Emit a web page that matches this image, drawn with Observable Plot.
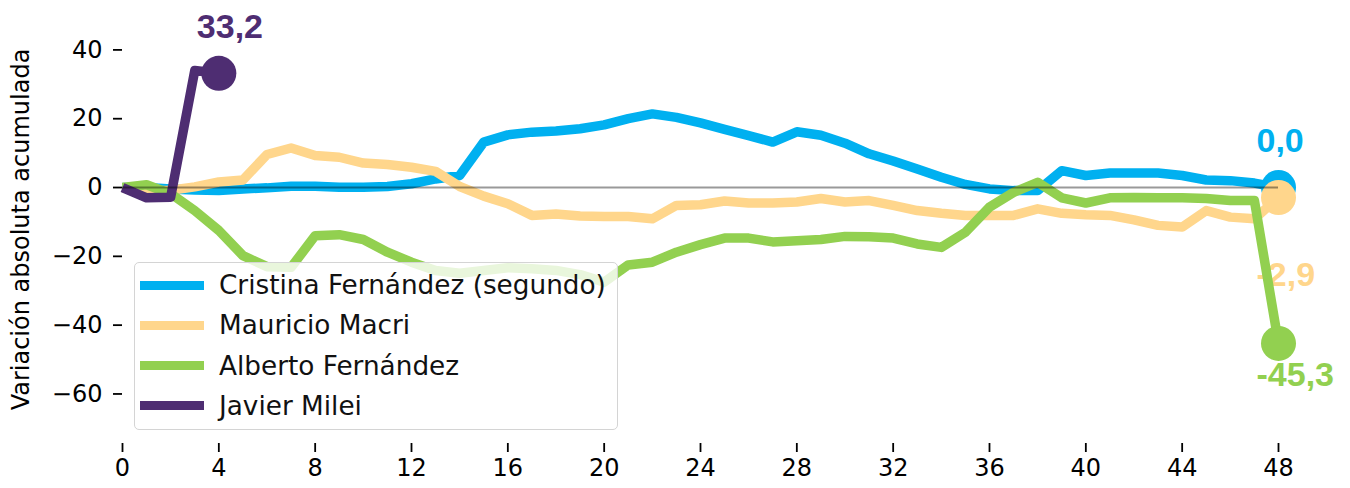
<!DOCTYPE html>
<html>
<head>
<meta charset="utf-8">
<script src="https://cdn.jsdelivr.net/npm/d3@7"></script>
<script src="https://cdn.jsdelivr.net/npm/@observablehq/plot@0.6"></script>
<style>
  html, body { margin: 0; padding: 0; background: white; }
  #wrap { position: relative; width: 1350px; height: 488px; }
  .legend { position: absolute; background: rgba(255,255,255,0.8); border: 1.5px solid #d4d4d4; border-radius: 5px; box-sizing: border-box; }
  .legend .sw { position: absolute; height: 9px; }
  .legend .lb { position: absolute; font-family: "DejaVu Sans"; font-size: 26.3px; color: #111; white-space: nowrap; line-height: 30px; }
</style>
</head>
<body>
<div id="wrap"></div>
<script>
// ---- data ----
const months = d3.range(0, 49);
const xTicks = [0, 4, 8, 12, 16, 20, 24, 28, 32, 36, 40, 44, 48];
const yTicks = [-60, -40, -20, 0, 20, 40];

const seriesNames = ["Cristina Fernández (segundo)", "Mauricio Macri", "Alberto Fernández", "Javier Milei"];
const seriesColors = ["#00B0F0", "#FFD68C", "#92D050", "#4E2D72"];

const cristina = [0, 0, -0.4, -0.7, -0.9, -0.4, -0.1, 0.4, 0.4, 0.1, 0.1, 0.3, 1.1, 2.5, 3.5,
  13.2, 15.3, 16.1, 16.4, 17.1, 18.2, 20.0, 21.4, 20.4, 18.8, 16.9, 15.1, 13.2, 16.2, 15.2,
  12.9, 9.8, 7.7, 5.4, 3.0, 0.9, -0.4, -0.9, -0.9, 4.9, 3.5, 4.2, 4.2, 4.2, 3.5, 2.2, 2.0, 1.3, 0.0];
const macri = [0, -1.0, -0.8, 0.2, 1.6, 2.2, 9.6, 11.5, 9.3, 8.8, 7.1, 6.7, 5.9, 4.7, 0.3,
  -2.5, -4.7, -8.1, -7.7, -8.3, -8.4, -8.4, -9.1, -5.2, -5.0, -3.9, -4.5, -4.5, -4.2, -3.2,
  -4.2, -3.8, -5.2, -6.7, -7.5, -8.1, -8.1, -8.1, -6.2, -7.5, -7.9, -8.1, -9.4, -11.0, -11.5,
  -6.7, -8.6, -9.1, -2.9];
const alberto = [0, 0.8, -1.8, -6.7, -12.5, -19.8, -23.0, -23.2, -14.0, -13.7, -15.1, -18.8,
  -21.7, -24.1, -24.9, -24.1, -23.3, -23.6, -24.1, -25.3, -27.5, -22.5, -21.7, -18.8, -16.6,
  -14.7, -14.7, -15.8, -15.5, -15.1, -14.2, -14.3, -14.7, -16.4, -17.4, -13.0, -5.7, -1.4,
  1.5, -3.0, -4.5, -3.0, -2.9, -3.0, -3.0, -3.2, -3.8, -3.8, -45.3];
const milei = [0, -3.0, -2.8, 34.0, 33.2];

const seriesValues = [cristina, macri, alberto, milei];

// ---- build tables ----
const tables = seriesNames.map((name, k) =>
  seriesValues[k].map((v, i) => ({name, x: months[i], y: v})));
const ends = tables.map(t => {
  const e = t[t.length - 1];
  return {...e, label: e.y.toFixed(1).replace(".", ",")};
});
const labelDy = [-46, 78, 32, -46];

const minusFmt = d => d < 0 ? "\u2212" + (-d) : String(d);

const seriesMarks = tables.flatMap((t, k) => [
  Plot.lineY(t, {x: "x", y: "y", stroke: "name", strokeWidth: 9.5, strokeLinejoin: "round", strokeLinecap: "butt"}),
  Plot.dot([ends[k]], {x: "x", y: "y", r: 17.5, fill: "name", stroke: null}),
  Plot.text([ends[k]], {x: "x", y: "y", text: "label", fill: "name",
    fontFamily: "Liberation Sans", fontWeight: "bold", fontSize: 34,
    textAnchor: "start", dx: -22, dy: labelDy[k]})
]);

const chart = Plot.plot({
  width: 1350,
  height: 488,
  marginLeft: 122,
  marginRight: 72,
  marginTop: 15,
  marginBottom: 45,
  x: {domain: [0, 48]},
  y: {domain: [-74.4, 50]},
  color: {domain: seriesNames, range: seriesColors},
  style: {fontFamily: "DejaVu Sans", fontSize: "24px", background: "white", color: "black"},
  marks: [
    Plot.axisX({ticks: xTicks, tickSize: 9, tickPadding: 6, label: null, tickFormat: d => String(d), strokeWidth: 1.8}),
    Plot.axisY({ticks: yTicks, tickSize: 9, tickPadding: 11, tickFormat: minusFmt, strokeWidth: 1.8,
      label: "Variación absoluta acumulada", labelAnchor: "center", labelOffset: 111, labelArrow: false}),
    ...seriesMarks,
    Plot.ruleY([0], {x1: 0, x2: 48, stroke: "black", strokeOpacity: 0.4, strokeWidth: 2})
  ]
});

const wrap = document.getElementById("wrap");
wrap.appendChild(chart);

// ---- legend (inside plot area, matplotlib style) ----
const legend = document.createElement("div");
legend.className = "legend";
Object.assign(legend.style, {left: "134px", top: "262px", width: "484px", height: "168px"});
seriesNames.forEach((name, k) => {
  const cy = 22 + k * 40.3;
  const sw = document.createElement("div");
  sw.className = "sw";
  Object.assign(sw.style, {left: "5px", top: (cy - 4.5) + "px", width: "64px", background: seriesColors[k]});
  const lb = document.createElement("div");
  lb.className = "lb";
  lb.textContent = name;
  Object.assign(lb.style, {left: "84px", top: (cy - 15) + "px"});
  legend.appendChild(sw);
  legend.appendChild(lb);
});
wrap.appendChild(legend);
</script>
</body>
</html>
